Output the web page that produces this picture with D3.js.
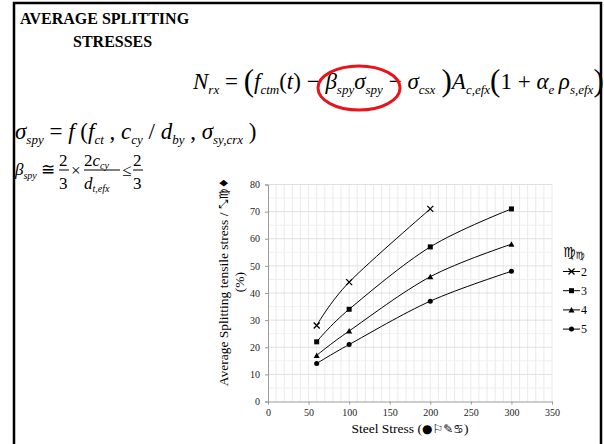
<!DOCTYPE html>
<html>
<head>
<meta charset="utf-8">
<script src="https://cdn.jsdelivr.net/npm/d3@7"></script>
<style>
body { margin: 0; background: #fff; }
svg { display: block; }
</style>
</head>
<body>
<div class="holder"></div>
<script>
// chart data
var stress = [60, 100, 200, 300]
var s2 = [28, 44, 71]
var s3 = [22, 34, 57, 71]
var s4 = [17, 26, 46, 58]
var s5 = [14, 21, 37, 48]
var seriesNames = ['2', '3', '4', '5']
var markerTypes = ['x', 'square', 'triangle', 'circle']
var xTicks = [0, 50, 100, 150, 200, 250, 300, 350]
var yTicks = [0, 10, 20, 30, 40, 50, 60, 70, 80]

var width = 604, height = 444
var svg = d3.select('.holder').append('svg')
  .attr('width', width)
  .attr('height', height)

var serif = "'Liberation Serif', 'DejaVu Serif', serif"
var sym = "'DejaVu Sans', sans-serif"

// slide frame
svg.append('path')
  .attr('d', 'M14,460 L14,3 L601,3 L601,460')
  .attr('fill', 'none')
  .attr('stroke', '#000')
  .attr('stroke-width', 2.5)

// title
svg.append('text').attr('x', 20).attr('y', 24)
  .style('font-family', serif).style('font-weight', 'bold').style('font-size', '16px')
  .text('AVERAGE SPLITTING')
svg.append('text').attr('x', 73).attr('y', 47)
  .style('font-family', serif).style('font-weight', 'bold').style('font-size', '16px')
  .text('STRESSES')

// equation helper: parts = [text, size, italic, dy]
function eq(x, y, parts) {
  var t = svg.append('text').attr('x', x).attr('y', y)
    .style('font-family', serif).attr('fill', '#000')
    .attr('xml:space', 'preserve').style('white-space', 'pre')
  parts.forEach(function(p) {
    t.append('tspan')
      .attr('y', y + (p[3] || 0))
      .style('font-size', p[1] + 'px')
      .style('font-style', p[2] ? 'italic' : 'normal')
      .text(p[0])
  })
  return t
}

var B = 23, S = 13, P = 31
eq(193, 89, [
  ['N', B, 1], ['rx', S, 1, 5], [' = ', B, 0], ['(', P, 0, 2],
  ['f', B, 1], ['ctm', S, 1, 5], ['(', B, 0], ['t', B, 1], [') ', B, 0],
  ['\u2212 ', B, 0], ['\u03b2', B, 1], ['spy', S, 1, 5], ['\u03c3', B, 1], ['spy', S, 1, 5],
  [' \u2212 ', B, 0], ['\u03c3', B, 1], ['csx', S, 1, 5], ['\u2009)', P, 0, 2],
  ['A', B, 1], ['c,efx', S, 1, 5], ['(', P, 0, 2], ['1 + ', B, 0],
  ['\u03b1', B, 1], ['e', S, 1, 5], ['\u2009\u03c1', B, 1], ['s,efx', S, 1, 5], [')', P, 0, 2]
])

// red circle around beta*sigma
svg.append('ellipse')
  .attr('cx', 359).attr('cy', 88).attr('rx', 41).attr('ry', 22)
  .attr('fill', 'none').attr('stroke', '#e8141c').attr('stroke-width', 3)

eq(15, 139, [
  ['\u03c3', B, 1], ['spy', S, 1, 5], [' = ', B, 0], ['f', B, 1], [' (', B, 0],
  ['f', B, 1], ['ct', S, 1, 5], [' , ', B, 0], ['c', B, 1], ['cy', S, 1, 5], [' / ', B, 0],
  ['d', B, 1], ['by', S, 1, 5], [' , ', B, 0], ['\u03c3', B, 1], ['sy,crx', S, 1, 5], [' )', B, 0]
])

// beta formula with fractions
var F = 17, FS = 10
eq(15, 175, [['\u03b2', F, 1], ['spy', FS, 1, 4], [' \u2245', F, 0]])
function frac(cx, num, den, w) {
  eq(cx - w / 2, 166, num)
  eq(cx - w / 2, 189, den)
  svg.append('line').attr('x1', cx - w / 2).attr('x2', cx + w / 2)
    .attr('y1', 170).attr('y2', 170).attr('stroke', '#000').attr('stroke-width', 1)
}
frac(64, [['2', F, 0]], [['3', F, 0]], 10)
eq(71, 176, [['\u00d7', F, 0]])
frac(102, [['2', F, 0], ['c', F, 1], ['cy', FS, 1, 3]], [['d', F, 1], ['t,efx', FS, 1, 3]], 36)
eq(122, 176, [['\u2264', F, 0]])
frac(138, [['2', F, 0]], [['3', F, 0]], 10)

// chart
var plotL = 268, plotR = 552, plotT = 184.5, plotB = 401.5
var xScale = d3.scaleLinear().domain([0, 350]).range([plotL, plotR])
var yScale = d3.scaleLinear().domain([0, 80]).range([plotB, plotT])

var grid = svg.append('g')
grid.selectAll('.vg').data(d3.range(10, 351, 10)).enter().append('line')
  .attr('x1', function(d) { return xScale(d) }).attr('x2', function(d) { return xScale(d) })
  .attr('y1', plotT).attr('y2', plotB)
  .attr('stroke', '#e4e4e4').attr('stroke-width', 0.8)
grid.selectAll('.hg').data(d3.range(5, 81, 5)).enter().append('line')
  .attr('x1', plotL).attr('x2', plotR)
  .attr('y1', function(d) { return yScale(d) }).attr('y2', function(d) { return yScale(d) })
  .attr('stroke', function(d) { return d % 10 === 0 ? '#d8d8d8' : '#ececec' }).attr('stroke-width', 0.8)

var xAxis = svg.append('g').attr('transform', 'translate(0,' + plotB + ')')
  .call(d3.axisBottom(xScale).tickValues(xTicks).tickSize(3).tickPadding(4))
var yAxis = svg.append('g').attr('transform', 'translate(' + plotL + ',0)')
  .call(d3.axisLeft(yScale).tickValues(yTicks).tickSize(3).tickPadding(5))
;[xAxis, yAxis].forEach(function(a) {
  a.select('.domain').attr('stroke', '#9a9a9a')
  a.selectAll('.tick line').attr('stroke', '#9a9a9a')
  a.selectAll('.tick text').style('font-family', serif).style('font-size', '10px').attr('fill', '#222')
})

var allSeries = [s2, s3, s4, s5]
var line = d3.line()
  .x(function(d) { return xScale(d.x) })
  .y(function(d) { return yScale(d.y) })
  .curve(d3.curveCatmullRom.alpha(0))

function marker(g, type, x, y) {
  if (type === 'x') {
    g.append('path').attr('d', 'M' + (x - 3) + ',' + (y - 3) + 'L' + (x + 3) + ',' + (y + 3) +
      'M' + (x - 3) + ',' + (y + 3) + 'L' + (x + 3) + ',' + (y - 3))
      .attr('stroke', '#000').attr('stroke-width', 1.3)
  } else if (type === 'square') {
    g.append('rect').attr('x', x - 2.5).attr('y', y - 2.5).attr('width', 5).attr('height', 5).attr('fill', '#000')
  } else if (type === 'triangle') {
    g.append('path').attr('d', 'M' + x + ',' + (y - 3) + 'L' + (x + 3) + ',' + (y + 2.5) + 'L' + (x - 3) + ',' + (y + 2.5) + 'Z')
      .attr('fill', '#000')
  } else {
    g.append('circle').attr('cx', x).attr('cy', y).attr('r', 2.5).attr('fill', '#000')
  }
}

allSeries.forEach(function(vals, i) {
  var pts = vals.map(function(v, j) { return { x: stress[j], y: v } })
  svg.append('path').datum(pts)
    .attr('d', line)
    .attr('fill', 'none')
    .attr('stroke', '#000')
    .attr('stroke-width', 1)
  var mg = svg.append('g')
  pts.forEach(function(p) { marker(mg, markerTypes[i], xScale(p.x), yScale(p.y)) })
})

// legend
svg.append('text').attr('x', 563).attr('y', 257)
  .style('font-family', sym).style('font-size', '14px').style('font-style', 'italic')
  .text('\u264d\ufe0e')
  .append('tspan').style('font-size', '10px').attr('dy', 2).text('\u264d\ufe0e')
seriesNames.forEach(function(n, i) {
  var ly = 271.5 + i * 19.2
  svg.append('line').attr('x1', 563).attr('x2', 580).attr('y1', ly).attr('y2', ly)
    .attr('stroke', '#000').attr('stroke-width', 1)
  var lg = svg.append('g')
  marker(lg, markerTypes[i], 571.5, ly)
  svg.append('text').attr('x', 581).attr('y', ly + 4)
    .style('font-family', serif).style('font-size', '12px').text(n)
})

// axis titles
var yl = svg.append('text')
  .attr('transform', 'translate(232,282) rotate(-90)')
  .attr('text-anchor', 'middle')
  .style('font-family', serif).style('font-size', '13.5px')
var yl1 = yl.append('tspan').attr('x', 0).attr('y', -4).text('Average Splitting tensile stress / ')
yl1.append('tspan').style('font-family', sym).style('font-size', '12px').text('\u2921\u264d\ufe0e\u2666\ufe0e')
yl.append('tspan').attr('x', 0).attr('y', 12).text('(%)')

var xl = svg.append('text').attr('x', 410).attr('y', 433)
  .attr('text-anchor', 'middle')
  .style('font-family', serif).style('font-size', '13.5px')
  .text('Steel Stress (')
xl.append('tspan').style('font-family', sym).style('font-size', '12px').text('\u25cf\u2690\u270e\u264b\ufe0e')
xl.append('tspan').text(')')
</script>
</body>
</html>
